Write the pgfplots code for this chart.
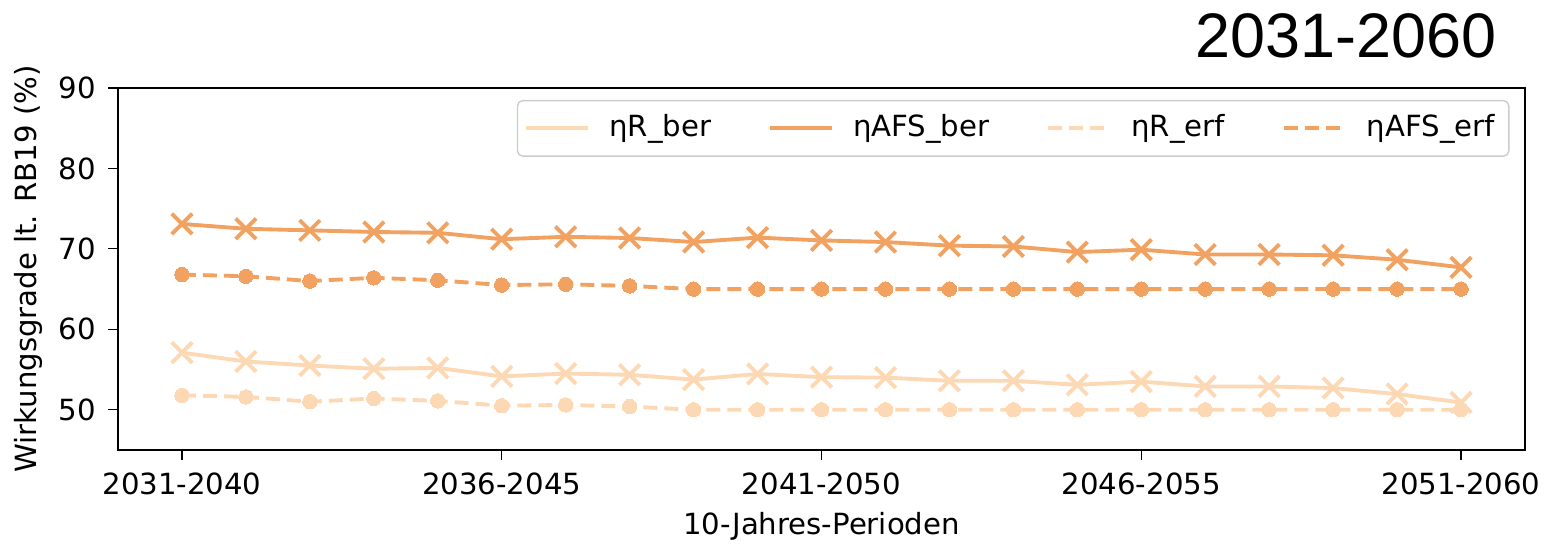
\documentclass[border=0pt]{standalone}
\usepackage{pgfplots}
\pgfplotsset{compat=1.18}
\usepackage{fontspec}
\setmainfont{DejaVu Sans}
\newfontfamily\arialfont{Liberation Sans}
\definecolor{dark}{RGB}{242,162,96}
\definecolor{light}{RGB}{253,216,180}
\pgfplotstableread{
x Rber AFSber Rerf AFSerf
0 57.1 73.1 51.8 66.8
1 56.0 72.5 51.6 66.6
2 55.5 72.3 51.0 66.0
3 55.1 72.1 51.4 66.4
4 55.2 72.0 51.1 66.1
5 54.15 71.2 50.5 65.5
6 54.5 71.5 50.6 65.6
7 54.35 71.35 50.4 65.4
8 53.75 70.85 50.0 65.0
9 54.45 71.4 50.0 65.0
10 54.05 71.05 50.0 65.0
11 54.0 70.85 50.0 65.0
12 53.6 70.4 50.0 65.0
13 53.6 70.3 50.0 65.0
14 53.1 69.6 50.0 65.0
15 53.5 69.9 50.0 65.0
16 52.9 69.3 50.0 65.0
17 52.9 69.3 50.0 65.0
18 52.7 69.2 50.0 65.0
19 51.95 68.65 50.0 65.0
20 50.9 67.7 50.0 65.0
}\datatable
\begin{document}
\begin{tikzpicture}[font=\fontsize{8.3pt}{10pt}\selectfont]
\useasboundingbox (-11.8mm,-9.4mm) rectangle (142.6mm,45.0mm);
\begin{axis}[
  at={(0,0)}, anchor=south west,
  scale only axis, width=140.7mm, height=36.2mm,
  xmin=-1, xmax=21, ymin=45, ymax=90,
  xtick={0,5,10,15,20},
  xticklabels={2031-2040,2036-2045,2041-2050,2046-2055,2051-2060},
  ytick={50,60,70,80,90},
  /pgf/number format/assume math mode=true,
  tick align=outside, tick pos=left,
  major tick length=1mm,
  every tick/.style={black, line width=0.35pt},
  axis line style={line width=0.35pt},
  xlabel={10-Jahres-Perioden},
  ylabel={Wirkungsgrade lt. RB19 (\%)},
  xlabel style={yshift=0.6mm},
  ylabel style={yshift=-0.8mm},
  legend columns=4,
  legend style={at={(0.989,0.967)}, anchor=north east, draw=black!20, rounded corners=1.5pt,
    font=\fontsize{8.3pt}{10pt}\selectfont, inner xsep=0.7mm, inner ysep=0.7mm,
    /tikz/every odd column/.append style={column sep=1.2mm},
    /tikz/every even column/.append style={column sep=5mm}},
  legend image post style={mark=none},
  legend image code/.code={\draw[#1] (0mm,0mm) -- (6.2mm,0mm);},
]
\addplot[light, line width=1.1pt, mark=x, mark size=1.45mm, mark options={solid, line width=1.1pt}] table[x=x,y=Rber] {\datatable};
\addlegendentry{ηR\_ber}
\addplot[dark, line width=1.1pt, mark=x, mark size=1.45mm, mark options={solid, line width=1.1pt}] table[x=x,y=AFSber] {\datatable};
\addlegendentry{ηAFS\_ber}
\addplot[light, line width=1.1pt, dash pattern=on 1.4mm off 0.7mm, mark=*, mark size=0.72mm, mark options={solid, fill=light, draw=light, line width=0pt}] table[x=x,y=Rerf] {\datatable};
\addlegendentry{ηR\_erf}
\addplot[dark, line width=1.1pt, dash pattern=on 1.4mm off 0.7mm, mark=*, mark size=0.72mm, mark options={solid, fill=dark, draw=dark, line width=0pt}] table[x=x,y=AFSerf] {\datatable};
\addlegendentry{ηAFS\_erf}
\end{axis}
\node[anchor=base east, font=\arialfont\fontsize{17.9pt}{20pt}\selectfont, inner sep=0pt] at (137.9mm,39.2mm) {2031-2060};
\end{tikzpicture}
\end{document}
